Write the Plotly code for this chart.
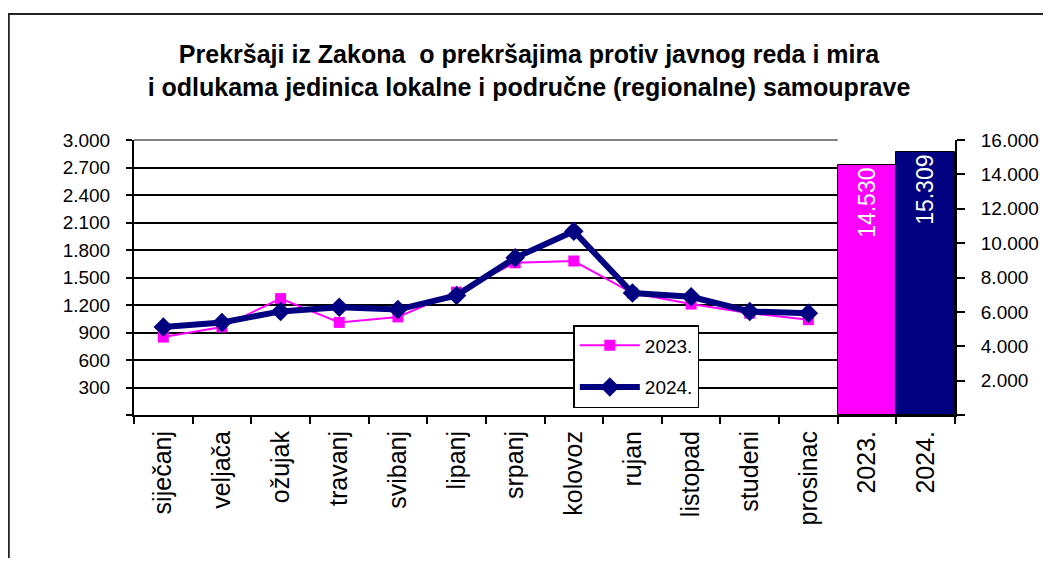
import plotly.graph_objects as go

months = ["siječanj", "veljača", "ožujak", "travanj", "svibanj", "lipanj",
          "srpanj", "kolovoz", "rujan", "listopad", "studeni", "prosinac"]
year_labels = ["2023.", "2024."]
values_2023 = [850, 960, 1270, 1010, 1070, 1340, 1660, 1680, 1330, 1210, 1110, 1040]
values_2024 = [960, 1010, 1130, 1175, 1150, 1305, 1715, 2005, 1330, 1290, 1130, 1109]
totals = [14530, 15309]
left_ticks = [300, 600, 900, 1200, 1500, 1800, 2100, 2400, 2700, 3000]
right_ticks = [2000, 4000, 6000, 8000, 10000, 12000, 14000, 16000]

title_text = ("Prekršaji iz Zakona  o prekršajima protiv javnog reda i mira<br>"
              "i odlukama jedinica lokalne i područne (regionalne) samouprave")

def fmt(v):
    return f"{v:,}".replace(",", ".")

# page body has an 8px margin: work in page pixels, subtract the offset
OFF = 8
W, H = 1051 - OFF, 566 - 2 * OFF
L, R, T, B = 134 - OFF, 960 - OFF, 140 - OFF, 415 - OFF
FONT = "Arial, Liberation Sans, sans-serif"

fig = go.Figure()

fig.add_trace(go.Bar(
    x=year_labels, y=totals, yaxis="y2",
    marker=dict(color=["#FF00FF", "#000080"], line=dict(color="black", width=1)),
    text=[fmt(v) for v in totals], textposition="inside", insidetextanchor="end",
    textangle=-90, textfont=dict(color="white", size=23, family=FONT),
    showlegend=False, width=1,
))

fig.add_trace(go.Scatter(
    x=months, y=values_2023, name="2023.", mode="lines+markers",
    line=dict(color="#FF00FF", width=2),
    marker=dict(symbol="square", size=11, color="#FF00FF"),
    legendgroup="a",
))
fig.add_trace(go.Scatter(
    x=months, y=values_2024, name="2024.", mode="lines+markers",
    line=dict(color="#000080", width=6),
    marker=dict(symbol="diamond", size=15, color="#000080"),
    legendgroup="b",
))

# convert page pixel positions to paper coordinates
px = lambda x: (x - OFF - L) / (R - L)
py = lambda y: (B - (y - OFF)) / (B - T)

fig.update_layout(
    width=W, height=H,
    margin=dict(l=L, r=W - R, t=T, b=H - B),
    paper_bgcolor="white", plot_bgcolor="white",
    font=dict(family=FONT, color="black"),
    title=dict(text=title_text, x=(529 - OFF) / W, xanchor="center",
               y=1 - (63 - OFF) / H, yanchor="middle",
               font=dict(size=25, family=FONT, color="black", weight="bold")),
    bargap=0,
    xaxis=dict(
        type="category", categoryorder="array", categoryarray=months + year_labels,
        range=[-0.5, 13.5], tickangle=-90, tickson="boundaries",
        ticks="outside", ticklen=7, tickcolor="black", tickwidth=1.5,
        showline=True, linecolor="black", linewidth=2,
        showgrid=False, tickfont=dict(size=25, family=FONT), ticklabelstandoff=4,
    ),
    yaxis=dict(
        range=[0, 3000], tickvals=[0] + left_ticks, ticktext=[""] + [fmt(v) for v in left_ticks],
        ticks="outside", ticklen=6, tickcolor="black", tickwidth=1.5,
        showline=True, linecolor="black", linewidth=2,
        showgrid=True, gridcolor="black", gridwidth=1.5, zeroline=False,
        tickfont=dict(size=19, family=FONT), ticklabelstandoff=12,
    ),
    yaxis2=dict(
        overlaying="y", side="right", range=[0, 16000],
        tickvals=[0] + right_ticks, ticktext=[""] + [fmt(v) for v in right_ticks],
        ticks="outside", ticklen=8, tickcolor="black", tickwidth=1.5,
        showline=True, linecolor="black", linewidth=2, showgrid=False, zeroline=False,
        tickfont=dict(size=19, family=FONT), ticklabelstandoff=12,
    ),
    legend=dict(
        x=px(576), y=py(325), xanchor="left", yanchor="top",
        bgcolor="white", bordercolor="black", borderwidth=1.5,
        font=dict(size=19, family=FONT), tracegroupgap=14, itemwidth=60,
        entrywidth=150, entrywidthmode="pixels",
    ),
    shapes=[
        dict(type="line", xref="paper", yref="paper", x0=0, x1=px(842), y0=1, y1=1,
             line=dict(color="#808080", width=2), layer="above"),
        dict(type="rect", xref="paper", yref="paper", x0=px(8), x1=px(1200),
             y0=py(600), y1=py(14), line=dict(color="#222222", width=2), layer="below"),
    ],
)

fig.write_html("out.html")
